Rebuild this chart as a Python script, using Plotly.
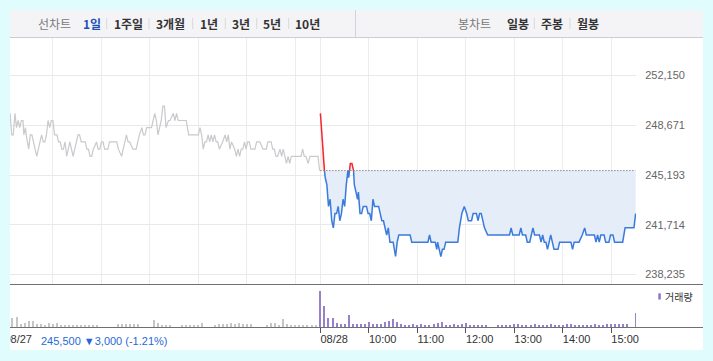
import plotly.graph_objects as go

# ---------------- data ----------------
BASE_PRICE = 245500          # 08/27 close (reference for 08/28)
DAY2_OFFSET = 391            # x position (minutes) of 08/28 09:00

y_ticks = [238235, 241714, 245193, 248671, 252150]
y_tick_text = ["238,235", "241,714", "245,193", "248,671", "252,150"]

# 08/27 (minutes after 09:00, price)
prev_min = [7, 9, 11, 13, 15, 17, 19, 21, 23, 24, 26, 27, 30, 32, 34, 36, 40, 44, 46, 48,
            50, 52, 54, 56, 58, 60, 62, 65, 67, 69, 71, 73, 75, 77, 79, 81, 83, 85, 87, 89,
            91, 93, 95, 100, 102, 104, 106, 108, 110, 114, 116, 118, 120, 122, 124, 128, 130, 137, 139, 141,
            145, 147, 151, 153, 155, 159, 163, 165, 167, 170, 172, 174, 176, 182, 186, 188, 190, 194, 196, 198,
            200, 203, 205, 209, 211, 213, 215, 225, 228, 240, 242, 244, 246, 248, 250, 252, 254, 256, 258, 260,
            262, 264, 266, 270, 273, 275, 277, 279, 281, 285, 287, 289, 291, 293, 295, 297, 299, 301, 303, 305,
            310, 312, 316, 320, 324, 326, 330, 332, 334, 336, 338, 341, 343, 345, 347, 349, 351, 353, 355, 367,
            369, 371, 373, 376, 378, 388, 390]
prev_price = [249500, 248000, 248000, 249500, 248500, 249000, 248500, 249000, 249000, 248000,
              248500, 248000, 247000, 248000, 248000, 247500, 246500, 247500, 248000, 247500,
              247500, 248000, 249000, 248500, 249000, 249000, 248000, 248000, 247500, 247500,
              247000, 247000, 247500, 246500, 247000, 247500, 247000, 246500, 247000, 247500,
              248000, 248000, 247500, 247500, 247000, 247000, 246500, 246500, 247000, 247500,
              247000, 247000, 247500, 247500, 247000, 247000, 247500, 247500, 247500, 247000,
              246500, 247000, 248000, 247500, 247500, 247000, 247000, 247500, 248000, 248500,
              248000, 248000, 248500, 248500, 249500, 249000, 248000, 249000, 250000, 250000,
              248500, 249000, 249000, 249500, 249000, 249500, 249000, 249000, 248000, 248000,
              248500, 248000, 247000, 247500, 247500, 248000, 247500, 248000, 247500, 248000,
              247500, 247500, 247000, 247500, 248000, 247500, 248000, 247000, 247500, 247000,
              246500, 247000, 246500, 247000, 247000, 247500, 247000, 247500, 247500, 247000,
              247000, 247500, 247500, 247000, 247000, 247500, 247500, 247000, 247000, 246500,
              246500, 247000, 246500, 247000, 246500, 246000, 246500, 246000, 246500, 246500,
              247000, 246500, 246500, 246000, 246500, 246500, 245500]

# 08/28 (minutes after 09:00, price)
today_min = [0, 5, 6, 8, 10, 12, 14, 16, 18, 20, 22, 24, 26, 28, 30, 32, 34, 35, 37, 39,
             41, 42, 44, 46, 47, 49, 51, 53, 57, 59, 61, 63, 65, 67, 72, 74, 76, 78, 80, 82,
             84, 86, 90, 93, 95, 97, 111, 113, 133, 135, 137, 142, 144, 145, 147, 149, 151, 153, 155, 170,
             172, 175, 178, 181, 183, 187, 189, 193, 195, 197, 199, 201, 203, 207, 234, 236, 238, 246, 248, 250,
             254, 256, 259, 261, 263, 265, 271, 273, 275, 277, 279, 281, 283, 285, 287, 289, 294, 296, 310, 312,
             314, 320, 324, 327, 329, 339, 341, 343, 345, 347, 351, 353, 357, 359, 362, 364, 374, 377, 386, 388,
             390]
today_price = [249500, 245500, 245000, 244500, 243000, 243500, 242000, 241500, 242500, 242500,
               243000, 242000, 242500, 243500, 243000, 244500, 245500, 245000, 246000, 246000,
               245500, 244500, 244000, 243500, 244000, 242500, 242500, 243000, 243000, 242500,
               242500, 242000, 243500, 243000, 243000, 242500, 242000, 242000, 241500, 241000,
               241500, 240500, 240500, 239500, 240500, 241000, 241000, 240500, 240500, 241000,
               240500, 240500, 240000, 240500, 240000, 239500, 240000, 240000, 240500, 240500,
               241500, 242500, 243000, 242500, 242000, 242000, 242500, 242500, 242000, 242500,
               242500, 242000, 241500, 241000, 241000, 241500, 241000, 241000, 241500, 241000,
               241000, 240500, 240500, 241000, 241500, 241000, 241000, 240500, 241000, 240500,
               240500, 240000, 240500, 241000, 240500, 240000, 240000, 240500, 240500, 240000,
               240500, 240500, 241000, 241500, 241000, 241000, 240500, 241000, 240500, 241000,
               241000, 240500, 240500, 241000, 241000, 240500, 240500, 241500, 241500, 241500,
               242500]

# volume in 5-minute buckets (minutes after 09:00), last bucket = closing auction
vol_min = list(range(0, 390, 5)) + [390]
prev_vol = [5, 4, 9, 10, 3, 4, 6, 6, 3, 3,
            2.5, 4, 3, 4, 2.5, 2.5, 2, 2.5, 2.5, 2,
            2.5, 2.5, 2, 2, 0, 0, 0, 0, 2.7, 2.7,
            2.7, 2.7, 2.7, 2.7, 0, 0, 0, 7, 4, 2,
            2, 2, 0, 0, 2.5, 2.5, 2.5, 2.5, 2, 3.7,
            0, 0, 2.5, 3, 3.5, 3, 4, 3.5, 4, 3.5,
            3, 3.5, 0, 0, 0, 2.5, 4, 3.7, 2.5, 7.7,
            3, 2.5, 2.5, 2.5, 2.5, 2.5, 2.5, 2.5, 16]
today_vol = [36, 21, 9, 9, 4, 3, 3, 12, 3.5, 3,
             3.5, 3, 5, 3, 3, 3, 5, 6, 7.7, 5.3,
             3, 2.5, 2.5, 3, 2.5, 3, 2.5, 2.5, 3, 4.3,
             5.3, 2.5, 2.5, 3, 2.5, 3, 4.3, 2.5, 2, 2,
             2, 2, 0, 0, 2, 2, 2, 2, 3.3, 3,
             2.5, 2.5, 2.5, 3, 2.5, 2.5, 2.5, 3.3, 2.5, 2.5,
             2.5, 3, 3.3, 2, 2, 2, 2, 2, 3, 2.5,
             2.5, 3, 3.3, 3, 3, 3, 3, 0, 14.3]

grid_min = [60, 120, 180, 240, 300, 360]            # 08/27 hour lines
day2_tick_min = [0, 60, 120, 180, 240, 300, 360]    # 08/28 ticks
day2_tick_text = ["08/28", "10:00", "11:00", "12:00", "13:00", "14:00", "15:00"]
day1_label = "08/27"
close_info = "245,500 ▼3,000 (-1.21%)"

# ---------------- geometry helpers ----------------
W, H = 713, 361
def px(x):
    return x / W
def py(y):
    return 1 - y / H

X_RANGE = [6.9, 781.5]
X_DOM = [px(10), px(636)]
Y_RANGE = [237578.8, 254763.1]
Y_DOM = [py(284), py(38)]
V_DOM = [py(327), py(285)]
L_DOM = [py(350), py(330)]
X3_RANGE = [6.9, 6.9 + 693 / (626 / (X_RANGE[1] - X_RANGE[0]))]

# ---------------- 08/28 split above/below base ----------------
xs = [DAY2_OFFSET + m for m in today_min]
ys = today_price
X, Y = [xs[0]], [ys[0]]
for i in range(1, len(xs)):
    x0, y0, x1, y1 = xs[i - 1], ys[i - 1], xs[i], ys[i]
    if (y0 - BASE_PRICE) * (y1 - BASE_PRICE) < 0:
        xc = x0 + (BASE_PRICE - y0) * (x1 - x0) / (y1 - y0)
        X.append(xc)
        Y.append(BASE_PRICE)
    X.append(x1)
    Y.append(y1)
up = [y if y >= BASE_PRICE else None for y in Y]
down = [y if y <= BASE_PRICE else None for y in Y]
low_fill = [min(y, BASE_PRICE) for y in Y]
high_fill = [max(y, BASE_PRICE) for y in Y]
base_line = [BASE_PRICE] * len(X)

fig = go.Figure()
fig.add_trace(go.Scatter(x=prev_min, y=prev_price, mode="lines",
                         line=dict(color="#c9c9ce", width=1.2), hoverinfo="skip"))
fig.add_trace(go.Scatter(x=X, y=base_line, mode="lines", line=dict(width=0), hoverinfo="skip"))
fig.add_trace(go.Scatter(x=X, y=low_fill, mode="lines", line=dict(width=0), fill="tonexty",
                         fillcolor="#e5edf9", hoverinfo="skip"))
fig.add_trace(go.Scatter(x=X, y=base_line, mode="lines", line=dict(width=0), hoverinfo="skip"))
fig.add_trace(go.Scatter(x=X, y=high_fill, mode="lines", line=dict(width=0), fill="tonexty",
                         fillcolor="#fdecec", hoverinfo="skip"))
fig.add_trace(go.Scatter(x=[DAY2_OFFSET + today_min[0], DAY2_OFFSET + today_min[-1]],
                         y=[BASE_PRICE, BASE_PRICE], mode="lines",
                         line=dict(color="#555555", width=1, dash="1px,2px"), hoverinfo="skip"))
fig.add_trace(go.Scatter(x=X, y=down, mode="lines", line=dict(color="#3a7bdc", width=1.5),
                         connectgaps=False, hoverinfo="skip"))
fig.add_trace(go.Scatter(x=X, y=up, mode="lines", line=dict(color="#f2282d", width=1.5),
                         connectgaps=False, hoverinfo="skip"))

# volume
fig.add_trace(go.Bar(x=vol_min, y=prev_vol, width=1.3, marker=dict(color="#c6c6c6", line=dict(width=0)),
                     xaxis="x2", yaxis="y2", hoverinfo="skip"))
fig.add_trace(go.Bar(x=[DAY2_OFFSET + m for m in vol_min], y=today_vol, width=1.3,
                     marker=dict(color="#9880cc", line=dict(width=0)),
                     xaxis="x2", yaxis="y2", hoverinfo="skip"))

# bottom time labels (clipped to the panel)
fig.add_trace(go.Scatter(x=[0] + [DAY2_OFFSET + m for m in day2_tick_min],
                         y=[0.5] * (len(day2_tick_min) + 1),
                         text=[day1_label] + day2_tick_text, mode="text",
                         textposition="middle right", cliponaxis=True,
                         textfont=dict(family="Liberation Sans, Arial", size=11, color="#333333"),
                         xaxis="x3", yaxis="y3", hoverinfo="skip"))

shapes = [
    dict(type="rect", xref="paper", yref="paper", x0=px(10), x1=px(703), y0=py(350), y1=py(10),
         fillcolor="white", line=dict(width=0), layer="below"),
    dict(type="rect", xref="paper", yref="paper", x0=px(10), x1=px(703), y0=py(37), y1=py(10),
         fillcolor="#f4f4f6", line=dict(width=0), layer="below"),
    dict(type="line", xref="paper", yref="paper", x0=px(10), x1=px(703), y0=py(37.5), y1=py(37.5),
         line=dict(color="#cdcdd1", width=1)),
    dict(type="line", xref="paper", yref="paper", x0=px(355.5), x1=px(355.5), y0=py(37), y1=py(10),
         line=dict(color="#d4d4d8", width=1)),
    dict(type="line", xref="paper", yref="paper", x0=px(10), x1=px(703), y0=py(284.5), y1=py(284.5),
         line=dict(color="#707070", width=1)),
    dict(type="line", xref="paper", yref="paper", x0=px(10), x1=px(703), y0=py(327.5), y1=py(327.5),
         line=dict(color="#707070", width=1)),
    dict(type="rect", xref="paper", yref="paper", x0=px(658.3), x1=px(660.8), y0=py(299.5), y1=py(293.3),
         fillcolor="#8f73c9", line=dict(width=0)),
]
for sx in [106.7, 149, 192.7, 225.3, 256.7, 288.7, 534.3, 570]:
    shapes.append(dict(type="line", xref="paper", yref="paper", x0=px(sx), x1=px(sx),
                       y0=py(29), y1=py(18), line=dict(color="#d9d9dc", width=1)))

KR = "Noto Sans CJK KR"
annotations = []
tabs = [("선차트", 54, "#7a7a7a", False), ("1일", 91.5, "#1f4fb8", True), ("1주일", 128.5, "#333333", True),
        ("3개월", 170.7, "#333333", True), ("1년", 208.7, "#333333", True), ("3년", 240.8, "#333333", True),
        ("5년", 272, "#333333", True), ("10년", 307, "#333333", True),
        ("봉차트", 474.7, "#7a7a7a", False), ("일봉", 517.5, "#333333", True),
        ("주봉", 551.5, "#333333", True), ("월봉", 587.5, "#333333", True)]
for t, cx, col, bold in tabs:
    annotations.append(dict(text=f"<b>{t}</b>" if bold else t, x=px(cx), y=py(23.5), xref="paper", yref="paper",
                            xanchor="center", yanchor="middle", showarrow=False,
                            font=dict(family=KR, size=12, color=col)))
annotations.append(dict(text=close_info, x=px(39), y=py(340.5), xref="paper", yref="paper",
                        xanchor="left", yanchor="middle", showarrow=False,
                        font=dict(family="Liberation Sans, Arial", size=11, color="#1f6ad8")))
annotations.append(dict(text="거래량", x=px(662.5), y=py(296.5), xref="paper", yref="paper",
                        xanchor="left", yanchor="middle", showarrow=False,
                        font=dict(family=KR, size=10, color="#333333")))

fig.update_layout(
    width=W, height=H, margin=dict(l=0, r=0, t=0, b=0),
    paper_bgcolor="#e1fcfc", plot_bgcolor="rgba(0,0,0,0)", showlegend=False,
    bargap=0, shapes=shapes, annotations=annotations,
    xaxis=dict(domain=X_DOM, range=X_RANGE, anchor="y", tickvals=grid_min + [DAY2_OFFSET + m for m in day2_tick_min],
               showticklabels=False, ticks="", showgrid=True, gridcolor="#ececec", gridwidth=1,
               zeroline=False, showline=False, fixedrange=True),
    yaxis=dict(domain=Y_DOM, range=Y_RANGE, anchor="x", side="right", tickvals=y_ticks, ticktext=y_tick_text,
               showgrid=True, gridcolor="#e9e9e9", gridwidth=1, zeroline=False, showline=False,
               ticks="outside", ticklen=6, tickcolor="rgba(0,0,0,0)",
               tickfont=dict(family="Liberation Sans, Arial", size=11, color="#666666"), fixedrange=True),
    xaxis2=dict(domain=X_DOM, range=X_RANGE, anchor="y2", tickvals=[DAY2_OFFSET + m for m in day2_tick_min],
                showticklabels=False, ticks="outside", ticklen=5, tickcolor="#555555", tickwidth=1,
                showgrid=False, zeroline=False, showline=False, fixedrange=True),
    yaxis2=dict(domain=V_DOM, range=[0, 42], anchor="x2", visible=False, fixedrange=True),
    xaxis3=dict(domain=[px(10), px(703)], range=X3_RANGE, anchor="y3", visible=False, fixedrange=True),
    yaxis3=dict(domain=L_DOM, range=[0, 1], anchor="x3", visible=False, fixedrange=True),
)

fig.write_html("out.html")
